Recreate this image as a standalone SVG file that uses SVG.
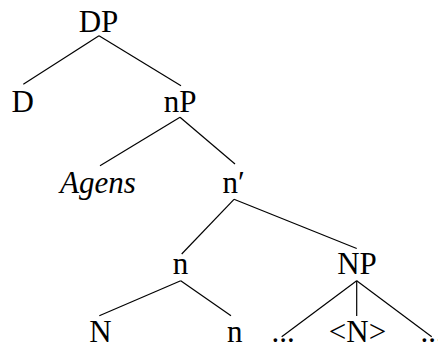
<svg xmlns="http://www.w3.org/2000/svg" width="438" height="347" viewBox="0 0 438 347">
<style>
text{font-family:"Liberation Serif","Times New Roman",serif;font-size:31px;fill:#000;text-anchor:middle}
.it{font-style:italic}
#edges line{stroke:#000;stroke-width:1.2}
</style>
<rect width="438" height="347" fill="#fff"/>
<g id="edges">
<line x1="99" y1="35.7" x2="23.3" y2="84.3"/>
<line x1="99" y1="35.7" x2="181" y2="85.7"/>
<line x1="180" y1="117.3" x2="100" y2="165.7"/>
<line x1="180" y1="117.3" x2="235" y2="164"/>
<line x1="234" y1="199.3" x2="181.7" y2="254"/>
<line x1="234" y1="199.3" x2="356.7" y2="248.5"/>
<line x1="180.7" y1="280.7" x2="99.3" y2="315.7"/>
<line x1="180.7" y1="280.7" x2="231" y2="315.7"/>
<line x1="356.7" y1="280.7" x2="281.7" y2="336.7"/>
<line x1="356.7" y1="280.7" x2="356.7" y2="316"/>
<line x1="356.7" y1="280.7" x2="431.7" y2="336.7"/>
</g>
<g id="DP"><text x="98.5" y="31.5">DP</text></g>
<g id="D"><text x="22.8" y="112.3">D</text></g>
<g id="nP"><text x="180" y="112.3">nP</text></g>
<g id="Agens"><text class="it" x="98" y="192.5">Agens</text></g>
<g id="nbar"><text x="222.5" y="193" style="text-anchor:start">n′</text></g>
<g id="n1"><text x="180.5" y="274">n</text></g>
<g id="NP"><text x="357" y="274">NP</text></g>
<g id="N"><text x="100.5" y="342">N</text></g>
<g id="n2"><text x="234.7" y="342">n</text></g>
<g id="dots1"><text x="283" y="342">...</text></g>
<g id="tN"><text x="357.5" y="342">&lt;N&gt;</text></g>
<g id="dots2"><text x="432" y="342">...</text></g>
</svg>
